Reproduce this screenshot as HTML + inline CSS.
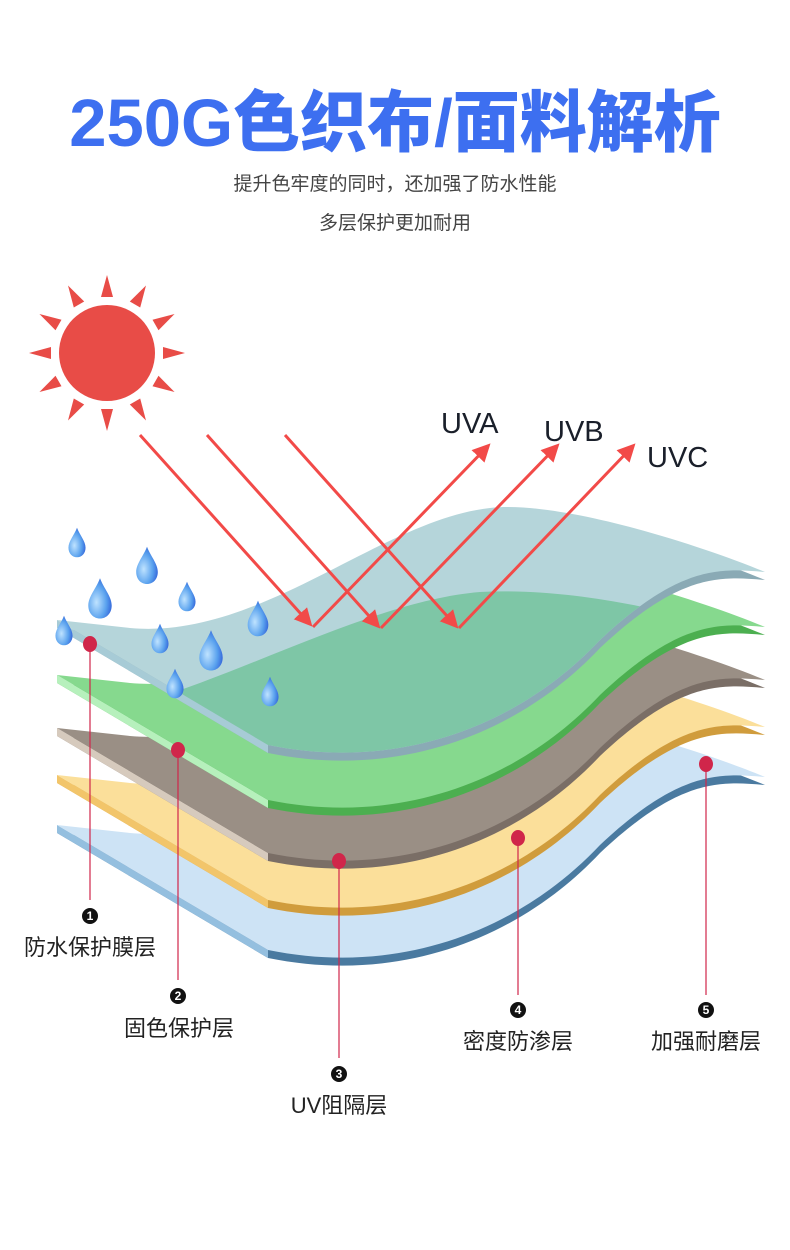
<!DOCTYPE html>
<html><head><meta charset="utf-8"><style>
body{margin:0;background:#fff;}
svg{display:block}
</style></head><body>
<svg width="790" height="1250" viewBox="0 0 790 1250" xmlns="http://www.w3.org/2000/svg">
<defs>
<radialGradient id="dg" cx="0.35" cy="0.6" r="0.7">
<stop offset="0" stop-color="#bfe3ff"/><stop offset="0.6" stop-color="#5aa2ee"/><stop offset="1" stop-color="#2f5fd8"/>
</radialGradient>
<path id="surf" d="M57,620 L268,745 C400,772 520,725 600,640 C680,565 720,568 765,572 C700,545 560,500 490,508 C380,520 260,640 130,628 Z"/>
<clipPath id="tclip"><path d="M57,620 L268,745 C400,772 520,725 600,640 C680,565 720,568 765,572 C700,545 560,500 490,508 C380,520 260,640 130,628 Z"/></clipPath>
<path id="drop" d="M0,-16 C3,-8 9,-2 9,5 C9,11 5,15 0,15 C-5,15 -9,11 -9,5 C-9,-2 -3,-8 0,-16 Z"/>
<marker id="ah" viewBox="0 0 10 10" refX="8" refY="5" markerWidth="6" markerHeight="6" orient="auto-start-reverse" markerUnits="strokeWidth">
<path d="M0,0 L10,5 L0,10 Z" fill="#f24a48"/></marker>
</defs>
<text x="395" y="146" text-anchor="middle" font-family="'Liberation Sans','Noto Sans CJK SC',sans-serif" font-weight="900" font-size="67" fill="#3d6ff0">250G色织布/面料解析</text>
<text x="395" y="190" text-anchor="middle" font-family="'Liberation Sans','Noto Sans CJK SC',sans-serif" font-size="19" fill="#444">提升色牢度的同时，还加强了防水性能</text>
<text x="395" y="229" text-anchor="middle" font-family="'Liberation Sans','Noto Sans CJK SC',sans-serif" font-size="19" fill="#444">多层保护更加耐用</text>

<!-- sun -->
<g fill="#e84c47" transform="translate(107,353)">
<circle r="48"/>
<g id="ray"><path d="M-6,-56 L6,-56 L0,-78 Z"/></g>
<use href="#ray" transform="rotate(30)"/><use href="#ray" transform="rotate(60)"/><use href="#ray" transform="rotate(90)"/>
<use href="#ray" transform="rotate(120)"/><use href="#ray" transform="rotate(150)"/><use href="#ray" transform="rotate(180)"/>
<use href="#ray" transform="rotate(210)"/><use href="#ray" transform="rotate(240)"/><use href="#ray" transform="rotate(270)"/>
<use href="#ray" transform="rotate(300)"/><use href="#ray" transform="rotate(330)"/>
</g>

<!-- layers bottom to top -->
<g transform="translate(0,205)">
<use href="#surf" transform="translate(0,8)" fill="#4a7aa0"/>
<path d="M57,620 L268,745 L268,753 L57,628 Z" fill="#94bfdf"/>
<use href="#surf" fill="#cde3f5"/>
</g>
<g transform="translate(0,155)">
<use href="#surf" transform="translate(0,8)" fill="#d09c3c"/>
<path d="M57,620 L268,745 L268,753 L57,628 Z" fill="#f2c56a"/>
<use href="#surf" fill="#fbdf9a"/>
</g>
<g transform="translate(0,108)">
<use href="#surf" transform="translate(0,8)" fill="#7a6e66"/>
<path d="M57,620 L268,745 L268,753 L57,628 Z" fill="#d6cabd"/>
<use href="#surf" fill="#9a8f85"/>
</g>
<g transform="translate(0,55)">
<use href="#surf" transform="translate(0,8)" fill="#4caf50"/>
<path d="M57,620 L268,745 L268,753 L57,628 Z" fill="#b6f0bc"/>
<use href="#surf" fill="#86d98e"/>
</g>
<g>
<use href="#surf" transform="translate(0,8)" fill="#8aaab5"/>
<path d="M57,620 L268,745 L268,753 L57,628 Z" fill="#a7cbd6"/>
<use href="#surf" fill="#b5d5da"/>
<g clip-path="url(#tclip)">
<path d="M150,700 C250,670 380,600 480,592 C560,588 640,605 700,620 L780,630 L780,800 L150,800 Z" fill="#7ec6a6"/>
</g>
</g>

<!-- rays -->
<g stroke="#f24a48" stroke-width="3" fill="none">
<line x1="140" y1="435" x2="310" y2="624" marker-end="url(#ah)"/>
<line x1="207" y1="435" x2="378" y2="626" marker-end="url(#ah)"/>
<line x1="285" y1="435" x2="456" y2="626" marker-end="url(#ah)"/>
<line x1="313" y1="627" x2="488" y2="446" marker-end="url(#ah)"/>
<line x1="381" y1="628" x2="557" y2="446" marker-end="url(#ah)"/>
<line x1="459" y1="628" x2="633" y2="446" marker-end="url(#ah)"/>
</g>
<g font-family="'Liberation Sans',sans-serif" font-size="29" fill="#1a1f2a">
<text x="441" y="433">UVA</text><text x="544" y="441">UVB</text><text x="647" y="467">UVC</text>
</g>

<!-- drops -->
<g fill="url(#dg)">
<use href="#drop" transform="translate(77,543) scale(0.95)"/>
<use href="#drop" transform="translate(147,566) scale(1.2)"/>
<use href="#drop" transform="translate(100,599) scale(1.3)"/>
<use href="#drop" transform="translate(187,597) scale(0.95)"/>
<use href="#drop" transform="translate(258,619) scale(1.15)"/>
<use href="#drop" transform="translate(64,631) scale(0.95)"/>
<use href="#drop" transform="translate(160,639) scale(0.95)"/>
<use href="#drop" transform="translate(211,651) scale(1.3)"/>
<use href="#drop" transform="translate(175,684) scale(0.95)"/>
<use href="#drop" transform="translate(270,692) scale(0.95)"/>
</g>

<!-- markers -->
<g stroke="#d0264a" stroke-width="1.2">
<line x1="90" y1="643" x2="90" y2="900"/>
<line x1="178" y1="749" x2="178" y2="980"/>
<line x1="339" y1="860" x2="339" y2="1058"/>
<line x1="518" y1="837" x2="518" y2="995"/>
<line x1="706" y1="763" x2="706" y2="995"/>
</g>
<g fill="#d0264a">
<ellipse cx="90" cy="644" rx="7" ry="8"/><ellipse cx="178" cy="750" rx="7" ry="8"/>
<ellipse cx="339" cy="861" rx="7" ry="8"/><ellipse cx="518" cy="838" rx="7" ry="8"/>
<ellipse cx="706" cy="764" rx="7" ry="8"/>
</g>
<g font-family="'Liberation Sans',sans-serif" font-size="12" font-weight="bold" text-anchor="middle">
<circle cx="90" cy="916" r="8" fill="#111"/><text x="90" y="920" fill="#fff">1</text>
<circle cx="178" cy="996" r="8" fill="#111"/><text x="178" y="1000" fill="#fff">2</text>
<circle cx="339" cy="1074" r="8" fill="#111"/><text x="339" y="1078" fill="#fff">3</text>
<circle cx="518" cy="1010" r="8" fill="#111"/><text x="518" y="1014" fill="#fff">4</text>
<circle cx="706" cy="1010" r="8" fill="#111"/><text x="706" y="1014" fill="#fff">5</text>
</g>
<g font-family="'Liberation Sans','Noto Sans CJK SC',sans-serif" font-size="22" fill="#222" text-anchor="middle">
<text x="90" y="955">防水保护膜层</text>
<text x="179" y="1036">固色保护层</text>
<text x="339" y="1113">UV阻隔层</text>
<text x="518" y="1049">密度防渗层</text>
<text x="706" y="1049">加强耐磨层</text>
</g>
</svg>
</body></html>
